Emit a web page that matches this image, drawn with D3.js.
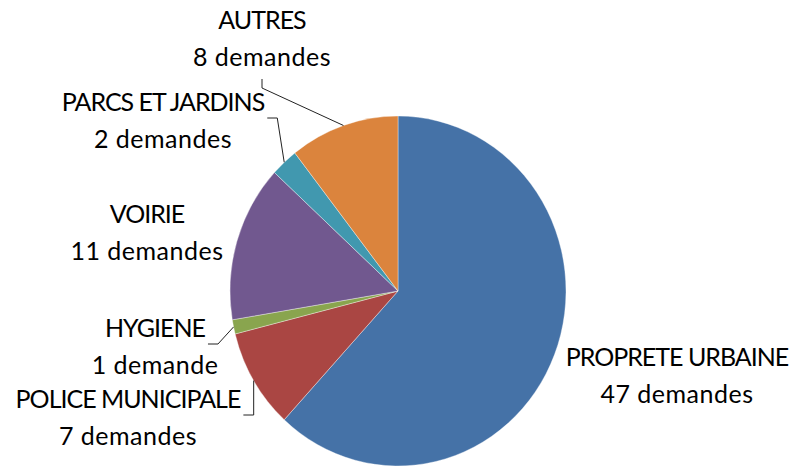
<!DOCTYPE html>
<html><head><meta charset="utf-8">
<script src="https://cdn.jsdelivr.net/npm/d3@7"></script>
<style>html,body{margin:0;padding:0;background:#fff;}svg{display:block;}</style>
</head><body>
<svg id="chart" width="792" height="467"></svg>
<script>
// Data
const categories = ["PROPRETE URBAINE", "POLICE MUNICIPALE", "HYGIENE", "VOIRIE", "PARCS ET JARDINS", "AUTRES"];
const values = [47, 7, 1, 11, 2, 8];
const valueLabels = ["47 demandes", "7 demandes", "1 demande", "11 demandes", "2 demandes", "8 demandes"];
const colors = ["#4572A7", "#AA4643", "#89A54E", "#71588F", "#4198AF", "#DB843D"];

// Layout (label anchor = center x, first-line baseline y) and leader-line styles
const labelLayout = [
  {x: 677, y: 366, leader: "none"},
  {x: 128, y: 408, leader: "right-vertical"},
  {x: 155, y: 337, leader: "right"},
  {x: 147, y: 223, leader: "none"},
  {x: 163, y: 111, leader: "right"},
  {x: 262, y: 29,  leader: "below"}
];

const svg = d3.select("#chart");
const cx = 398, cy = 291, r = 168, sy = 175 / 168;

const pie = d3.pie().sort(null).value(d => d)(values);
const arc = d3.arc().innerRadius(0).outerRadius(r);

const g = svg.append("g").attr("transform", `translate(${cx},${cy}) scale(1,${sy})`);
g.selectAll("path").data(pie).join("path")
  .attr("d", arc)
  .attr("fill", (d, i) => colors[i])
  .attr("stroke", "#ffffff")
  .attr("stroke-width", 0.6)
  .attr("stroke-opacity", 0.6);

function edgePoint(d) {
  const a = (d.startAngle + d.endAngle) / 2;
  return [cx + r * Math.sin(a), cy - r * Math.cos(a) * sy];
}

const font = "Lato, 'Open Sans', sans-serif";
const fs = 25;
const lineH = 37;

const labels = svg.append("g");
pie.forEach((d, i) => {
  const L = labelLayout[i];
  const t = labels.append("text")
    .attr("text-anchor", "middle")
    .attr("font-family", font)
    .attr("font-size", fs)
    .attr("fill", "#000");
  const t1 = t.append("tspan").attr("x", L.x).attr("y", L.y)
    .attr("letter-spacing", -1).text(categories[i]);
  t.append("tspan").attr("x", L.x).attr("y", L.y + lineH)
    .attr("letter-spacing", 0.5).text(valueLabels[i]);

  if (L.leader === "none") return;
  const w = t1.node().getComputedTextLength();
  const [ex, ey] = edgePoint(d);
  let pts;
  if (L.leader === "below") {
    const sx0 = L.x, sy0 = L.y + lineH + 13;
    pts = [[sx0, sy0], [sx0, sy0 + 9], [ex, ey]];
  } else if (L.leader === "right") {
    const sx0 = L.x + w / 2 + 3, sy0 = L.y + 7;
    pts = [[sx0, sy0], [sx0 + 10, sy0], [ex, ey]];
  } else {
    const sx0 = L.x + w / 2 + 3, sy0 = L.y + 7;
    pts = [[sx0, sy0], [ex, sy0], [ex, ey]];
  }
  svg.append("path")
    .attr("d", d3.line()(pts))
    .attr("fill", "none")
    .attr("stroke", "#222")
    .attr("stroke-width", 1);
});
</script>
</body></html>
